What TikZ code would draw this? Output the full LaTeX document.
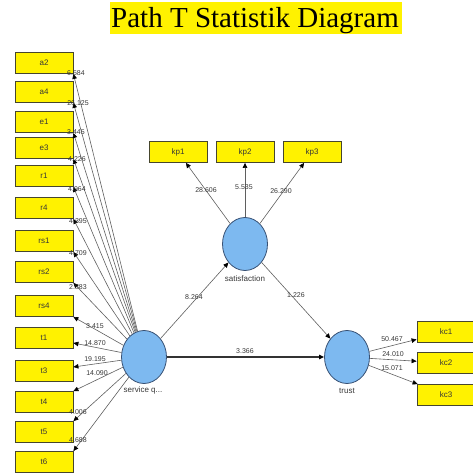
\documentclass[tikz,border=0pt]{standalone}
\usepackage{fontspec}
\setmainfont{Liberation Sans}
\newfontfamily\titlefont{Liberation Serif}
\usetikzlibrary{arrows.meta,calc,shapes.geometric}

\definecolor{boxedge}{RGB}{70,70,45}
\definecolor{latfill}{RGB}{125,185,240}
\definecolor{latedge}{RGB}{55,80,115}
\definecolor{linkgray}{RGB}{95,95,95}
\definecolor{txt}{RGB}{55,55,55}

\begin{document}
\begin{tikzpicture}[x=1pt,y=-1pt,
  indbox/.style={draw=boxedge, line width=0.8pt, fill=yellow, minimum width=58pt,
    minimum height=21pt, inner sep=0pt, font=\fontsize{8}{9}\selectfont, text=txt},
  latent/.style={ellipse, draw=latedge, line width=0.8pt, fill=latfill,
    minimum width=45pt, minimum height=53pt, inner sep=0pt},
  link/.style={draw=linkgray, line width=0.6pt,
    -{Triangle[length=5pt,width=4.5pt,color=black]}},
  structlink/.style={link, draw=black!80, line width=1.2pt},
  val/.style={font=\fontsize{7}{8}\selectfont, text=txt, inner sep=0pt},
  caption/.style={font=\fontsize{8}{9}\selectfont, text=txt, inner sep=0pt}
]
\useasboundingbox (0,0) rectangle (472,473);

% title
\node[fill=yellow, minimum width=292pt, minimum height=32pt, inner sep=0pt] (titlebg) at (256,18) {};
\node[anchor=base, inner sep=0pt] (title) at (255,27.5)
  {\titlefont\fontsize{29}{30}\selectfont Path T Statistik Diagram};

% latent variables
\node[latent] (sq) at (144,357) {};
\node[latent] (sat) at (245,244) {};
\node[latent] (tr) at (347,357) {};
\node[caption] (sqcap) at (143,390) {service q...};
\node[caption] (satcap) at (245,279) {satisfaction};
\node[caption] (trcap) at (347,391) {trust};

% indicators of service quality
\node[indbox] (a2) at (44,63) {a2};
\node[indbox] (a4) at (44,92) {a4};
\node[indbox] (e1) at (44,122) {e1};
\node[indbox] (e3) at (44,148) {e3};
\node[indbox] (r1) at (44,176) {r1};
\node[indbox] (r4) at (44,208) {r4};
\node[indbox] (rs1) at (44,241) {rs1};
\node[indbox] (rs2) at (44,272) {rs2};
\node[indbox] (rs4) at (44,306) {rs4};
\node[indbox] (t1) at (44,338) {t1};
\node[indbox] (t3) at (44,371) {t3};
\node[indbox] (t4) at (44,402) {t4};
\node[indbox] (t5) at (44,432) {t5};
\node[indbox] (t6) at (44,462) {t6};

% indicators of satisfaction and trust
\node[indbox] (kp1) at (178,152) {kp1};
\node[indbox] (kp2) at (245,152) {kp2};
\node[indbox] (kp3) at (312,152) {kp3};
\node[indbox] (kc1) at (446,332) {kc1};
\node[indbox] (kc2) at (446,363) {kc2};
\node[indbox] (kc3) at (446,395) {kc3};

% outer loadings of service quality
\draw[link] (sq) -- (a2.south east);
\draw[link] (sq) -- (a4.south east);
\draw[link] (sq) -- (e1.south east);
\draw[link] (sq) -- (e3.south east);
\draw[link] (sq) -- (r1.south east);
\draw[link] (sq) -- (r4.south east);
\draw[link] (sq) -- (rs1.south east);
\draw[link] (sq) -- (rs2.south east);
\draw[link] (sq) -- (rs4.south east);
\draw[link] (sq) -- ($(t1.east)+(0,5)$);
\draw[link] (sq) -- ($(t3.east)+(0,-4)$);
\draw[link] (sq) -- (t4.north east);
\draw[link] (sq) -- (t5.north east);
\draw[link] (sq) -- (t6.north east);

% outer loadings of satisfaction and trust
\draw[link] (sat) -- (kp1);
\draw[link] (sat) -- (kp2);
\draw[link] (sat) -- (kp3);
\draw[link] (tr) -- (kc1);
\draw[link] (tr) -- (kc2);
\draw[link] (tr) -- (kc3);

% structural paths
\draw[link] (sq) -- (sat);
\draw[link] (sat) -- (tr);
\draw[structlink] (sq) -- (tr);

% t statistics
\node[val] (va2) at (76,73) {6.684};
\node[val] (va4) at (78,103) {26.125};
\node[val] (ve1) at (76,132) {3.445};
\node[val] (ve3) at (77,159) {4.226};
\node[val] (vr1) at (77,189) {4.964};
\node[val] (vr4) at (78,221) {4.395};
\node[val] (vrs1) at (78,253) {4.709};
\node[val] (vrs2) at (78,287) {2.883};
\node[val] (vrs4) at (95,326) {3.415};
\node[val] (vt1) at (95,343) {14.870};
\node[val] (vt3) at (95,359) {19.195};
\node[val] (vt4) at (97,373) {14.090};
\node[val] (vt5) at (78,412) {4.006};
\node[val] (vt6) at (78,440) {4.688};

\node[val] (vkp1) at (206,190) {28.606};
\node[val] (vkp2) at (244,187) {5.535};
\node[val] (vkp3) at (281,191) {26.290};
\node[val] (vkc1) at (392,339) {50.467};
\node[val] (vkc2) at (393,354) {24.010};
\node[val] (vkc3) at (392,368) {15.071};

\node[val] (vsqsat) at (194,297) {8.264};
\node[val] (vsattr) at (296,295) {1.226};
\node[val] (vsqtr) at (245,351) {3.366};
\end{tikzpicture}
\end{document}
